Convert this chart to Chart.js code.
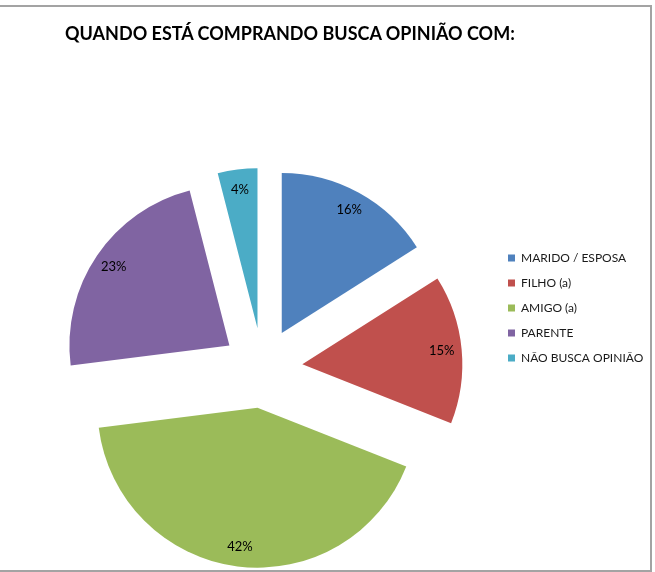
<!DOCTYPE html>
<html>
<head>
<meta charset="utf-8">
<script src="https://cdn.jsdelivr.net/npm/chart.js@4.4.0/dist/chart.umd.min.js"></script>
<style>
html,body{margin:0;padding:0;background:#fff;}
#wrap{position:relative;width:655px;height:572px;overflow:hidden;background:#fff;}
#chart{position:absolute;left:0;top:0;}
#frame{position:absolute;left:-3px;top:5px;width:655px;height:567px;border:2px solid #a3a3a3;box-sizing:border-box;pointer-events:none;}
#title{position:absolute;left:65px;top:24px;font-family:Lato,"Open Sans",sans-serif;font-weight:bold;font-size:18px;line-height:18px;color:#000;white-space:nowrap;}
</style>
</head>
<body>
<div id="wrap">
  <canvas id="chart" width="655" height="572"></canvas>
  <div id="title">QUANDO ESTÁ COMPRANDO BUSCA OPINIÃO COM:</div>
  <div id="frame"></div>
</div>
<script>
// ---- data ----
const categories = ["MARIDO / ESPOSA", "FILHO (a)", "AMIGO (a)", "PARENTE", "NÃO BUSCA OPINIÃO"];
const values = [16, 15, 42, 23, 4];
const colors = ["#4F81BD", "#C0504D", "#9BBB59", "#8064A2", "#4BACC6"];

// ---- style constants ----
const FONT = 'Lato, "Open Sans", sans-serif';
const EXPLODE = 40;      // px each slice is pulled out from the centre
const RADIUS = 160;      // pie radius px
const LABEL_R = 0.875;   // label distance as fraction of radius
const LEG_PAD = 13, LEG_BOX = 7, LEG_FS = 12;

const total = values.reduce((a, b) => a + b, 0);

// legend width -> right padding so that legend keys land at x≈508
const mctx = document.createElement('canvas').getContext('2d');
mctx.font = LEG_FS + 'px ' + FONT;
const maxW = Math.max(...categories.map(c => mctx.measureText(c).width));
const legendW = LEG_PAD + LEG_BOX + LEG_FS / 2 + maxW + 10;
const chartRight = 495;
const padRight = Math.max(0, 655 - chartRight - legendW);

// pull every slice out along its own mid-angle (exploded pie)
const explodePlugin = {
  id: 'explode',
  afterDatasetsUpdate(chart) {
    chart.getDatasetMeta(0).data.forEach(arc => {
      const mid = (arc.startAngle + arc.endAngle) / 2;
      arc.x += Math.cos(mid) * EXPLODE;
      arc.y += Math.sin(mid) * EXPLODE;
    });
  }
};

const labelPlugin = {
  id: 'sliceLabels',
  afterDatasetsDraw(chart) {
    const ctx = chart.ctx;
    const meta = chart.getDatasetMeta(0);
    ctx.save();
    ctx.font = '13px ' + FONT;
    ctx.fillStyle = '#000';
    ctx.textAlign = 'center';
    ctx.textBaseline = 'middle';
    meta.data.forEach((arc, i) => {
      const mid = (arc.startAngle + arc.endAngle) / 2;
      const d = LABEL_R * arc.outerRadius;
      const v = chart.data.datasets[0].data[i];
      ctx.fillText(Math.round(v / total * 100) + '%', arc.x + Math.cos(mid) * d, arc.y + Math.sin(mid) * d);
    });
    ctx.restore();
  }
};

new Chart(document.getElementById('chart'), {
  type: 'pie',
  data: {
    labels: categories,
    datasets: [{
      data: values,
      backgroundColor: colors,
      borderWidth: 0,
      radius: RADIUS,
      clip: false,
      offset: 0,
      hoverOffset: 0
    }]
  },
  options: {
    responsive: false,
    animation: false,
    events: [],
    devicePixelRatio: 1,
    layout: { padding: { top: 239, bottom: 75, left: 30, right: padRight } },
    plugins: {
      title: { display: false },
      tooltip: { enabled: false },
      legend: {
        display: true,
        position: 'right',
        align: 'start',
        labels: {
          boxWidth: LEG_BOX,
          boxHeight: LEG_BOX,
          padding: LEG_PAD,
          color: '#1a1a1a',
          font: { family: FONT, size: LEG_FS }
        }
      }
    }
  },
  plugins: [explodePlugin, labelPlugin]
});
</script>
</body>
</html>
